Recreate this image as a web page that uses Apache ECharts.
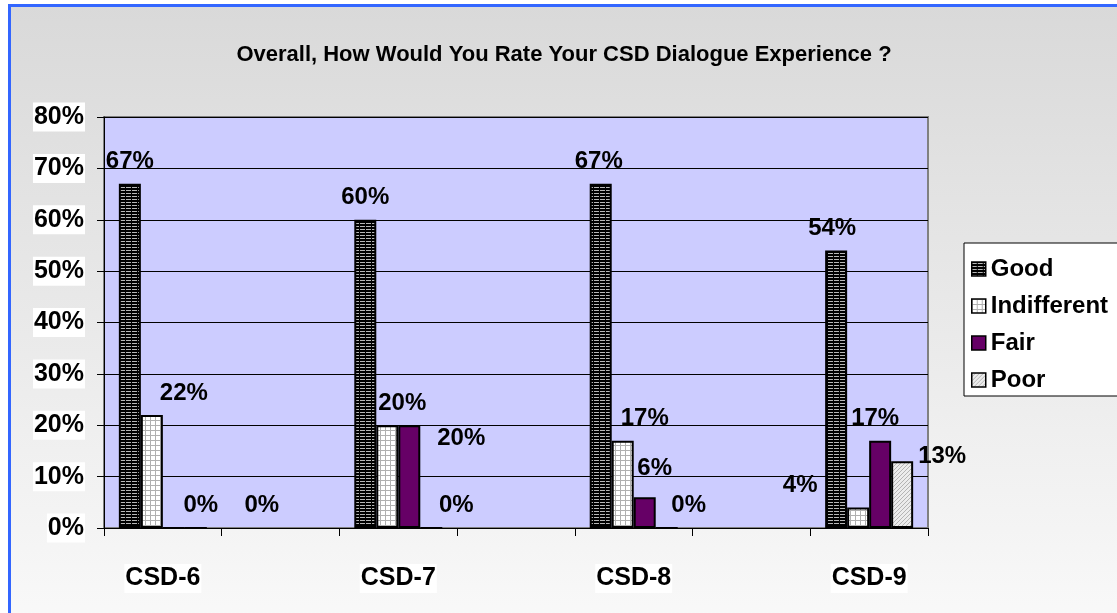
<!DOCTYPE html>
<html>
<head>
<meta charset="utf-8">
<script src="https://cdn.jsdelivr.net/npm/echarts@6/dist/echarts.min.js"></script>
<style>
  html, body { margin: 0; padding: 0; background: #fff; }
  #chart { width: 1117px; height: 613px; }
</style>
</head>
<body>
<div id="chart"></div>
<script>
// Survey results per CSD session (percent of respondents)
const sessions = ['CSD-6', 'CSD-7', 'CSD-8', 'CSD-9'];
const ratings = ['Good', 'Indifferent', 'Fair', 'Poor'];
const good        = [67, 60, 67, 54];
const indifferent = [22, 20, 17, 4];
const fair        = [0, 20, 6, 17];
const poor        = [0, 0, 0, 13];
const yTicks = [0, 10, 20, 30, 40, 50, 60, 70, 80];

// Hand-placed nudges [dx, dy] for the value labels, per rating and session
const labelShift = {
  Good:        [[0, 0], [0, 0], [-2, 0], [-4, 0]],
  Indifferent: [[32, 0], [15, 0], [22, 0], [-58, 0]],
  Fair:        [[27, 0], [52, 35], [10, -7], [-5, 0]],
  Poor:        [[66, 0], [25, 0], [22, 0], [40, 17]]
};

const FONT = 'Arial, "Liberation Sans", sans-serif';

function tile(w, h, draw) {
  const c = document.createElement('canvas');
  c.width = w; c.height = h;
  const g = c.getContext('2d');
  draw(g);
  return c;
}
// Fill patterns for each rating
const patGood = tile(6, 3, g => {
  g.fillStyle = '#000'; g.fillRect(0, 0, 6, 3);
  g.fillStyle = '#b8b8b8'; g.fillRect(0, 1, 5, 1);
});
const patIndiff = tile(5, 5, g => {
  g.fillStyle = '#fff'; g.fillRect(0, 0, 5, 5);
  g.fillStyle = '#b0b0b0'; g.fillRect(0, 0, 5, 1); g.fillRect(0, 0, 1, 5);
});
const patPoor = tile(4, 4, g => {
  g.fillStyle = '#ececec'; g.fillRect(0, 0, 4, 4);
  g.fillStyle = '#b4b4b4';
  for (let i = 0; i < 4; i++) g.fillRect(i, 3 - i, 1, 1);
});

const fills = {
  Good: { image: patGood, repeat: 'repeat' },
  Indifferent: { image: patIndiff, repeat: 'repeat' },
  Fair: '#660066',
  Poor: { image: patPoor, repeat: 'repeat' }
};
const values = { Good: good, Indifferent: indifferent, Fair: fair, Poor: poor };

// Sessions are spaced with an empty slot between them on the category axis
const axisCats = [];
sessions.forEach((s, i) => { axisCats.push(s); if (i < sessions.length - 1) axisCats.push(''); });

function spaced(name) {
  const out = [];
  values[name].forEach((v, i) => {
    out.push({ value: v, label: { offset: labelShift[name][i] } });
    if (i < sessions.length - 1) out.push('-');
  });
  return out;
}

const series = ratings.map(name => ({
  name,
  type: 'bar',
  barWidth: 22,
  barGap: '0%',
  data: spaced(name),
  itemStyle: { color: fills[name], borderColor: '#000', borderWidth: 2 },
  label: {
    show: true,
    position: 'top',
    distance: 10,
    formatter: '{c}%',
    color: '#000',
    fontFamily: FONT,
    fontWeight: 'bold',
    fontSize: 24
  }
}));

const chart = echarts.init(document.getElementById('chart'), null, { renderer: 'canvas' });
chart.setOption({
  animation: false,
  backgroundColor: '#fff',
  graphic: [{
    type: 'rect',
    z: -100,
    shape: { x: 9.5, y: 5.5, width: 1300, height: 800 },
    style: {
      fill: new echarts.graphic.LinearGradient(0, 0, 0, 1, [
        { offset: 0, color: '#d9d9d9' },
        { offset: 0.75, color: '#f8f8f8' },
        { offset: 1, color: '#fbfbfb' }
      ]),
      stroke: '#3366ff',
      lineWidth: 3
    }
  }],
  title: {
    text: 'Overall, How Would You Rate Your CSD Dialogue Experience ?',
    left: 559,
    textAlign: 'center',
    top: 39,
    textStyle: { fontFamily: FONT, fontWeight: 'bold', fontSize: 22, color: '#000' }
  },
  legend: {
    orient: 'vertical',
    left: 964,
    top: 243,
    data: ratings,
    icon: 'rect',
    itemWidth: 14,
    itemHeight: 14,
    itemGap: 13,
    padding: [14, 40, 4, 7],
    backgroundColor: '#fff',
    borderColor: '#000',
    borderWidth: 1,
    borderRadius: 0,
    itemStyle: { borderColor: '#000', borderWidth: 1.5 },
    textStyle: { fontFamily: FONT, fontWeight: 'bold', fontSize: 24, color: '#000' }
  },
  grid: {
    left: 104, right: 189, top: 117, bottom: 85,
    show: true,
    backgroundColor: '#ccccff',
    borderColor: '#808080',
    borderWidth: 2
  },
  xAxis: {
    type: 'category',
    data: axisCats,
    axisLine: { lineStyle: { color: '#000', width: 1 } },
    axisTick: { show: true, interval: 0, length: 8, lineStyle: { color: '#000' } },
    axisLabel: {
      interval: (idx) => idx % 2 === 0,
      margin: 36,
      color: '#000',
      fontFamily: FONT,
      fontWeight: 'bold',
      fontSize: 25,
      backgroundColor: '#fff',
      padding: [2, 1, 2, 1]
    },
    splitLine: { show: false }
  },
  yAxis: {
    type: 'value',
    min: yTicks[0],
    max: yTicks[yTicks.length - 1],
    interval: yTicks[1] - yTicks[0],
    axisLine: { show: true, lineStyle: { color: '#000', width: 1 } },
    axisTick: { show: true, length: 7, lineStyle: { color: '#000' } },
    axisLabel: {
      formatter: '{value}%',
      margin: 19,
      color: '#000',
      fontFamily: FONT,
      fontWeight: 'bold',
      fontSize: 25,
      backgroundColor: '#fff',
      padding: [2, 1, 2, 1]
    },
    splitLine: { show: true, lineStyle: { color: '#000', width: 1 } }
  },
  series
});
</script>
</body>
</html>
